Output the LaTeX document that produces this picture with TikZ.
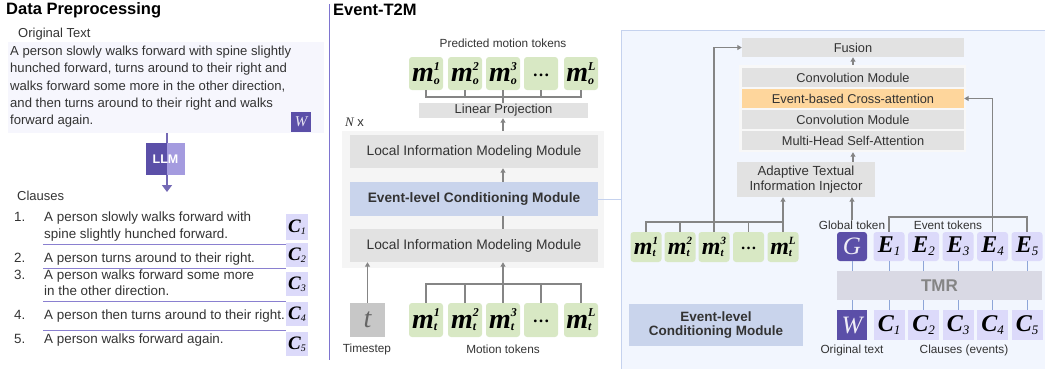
\documentclass[tikz,border=0pt]{standalone}
\usepackage{fontspec}
\setmainfont{Liberation Sans}
\newfontfamily\tokfont{Liberation Serif}
\usetikzlibrary{arrows.meta,calc}
\definecolor{purp}{HTML}{5B4FA8}
\definecolor{llml}{HTML}{A49BDF}
\definecolor{lav}{HTML}{DCDAFA}
\definecolor{grn}{HTML}{D8E8C4}
\definecolor{gbx}{HTML}{E2E2E2}
\definecolor{ecmc}{HTML}{C9D4EC}
\definecolor{orn}{HTML}{FED69C}
\definecolor{pnl}{HTML}{F2F6FE}
\definecolor{pnlb}{HTML}{C5D2EE}
\definecolor{lg}{HTML}{858585}
\definecolor{tmrc}{HTML}{D9D9E4}
\definecolor{bll}{HTML}{8EA6D8}
\definecolor{sepc}{HTML}{8A80D0}
\definecolor{otbg}{HTML}{F6F6FD}
\definecolor{txt}{HTML}{333333}
\definecolor{blkc}{HTML}{F5F5F5}
\definecolor{stkc}{HTML}{F8F8F8}
\definecolor{divc}{HTML}{7E74CF}
\newcommand\fsz[1]{\fontsize{#1}{#1}\selectfont}
\newcommand\mtok[3]{{\bfseries\itshape m}\rlap{\raisebox{-0.1em}{\fsz{#3}\bfseries\itshape #1}}\raisebox{0.4em}{\fsz{#3}\bfseries\itshape #2}}
\newcommand\etok[3]{{\bfseries\itshape #1}\raisebox{-0.12em}{\fsz{#3}\itshape #2}}
\tikzset{
  box/.style={inner sep=0pt, text=txt},
  gbox/.style={box, fill=gbx},
  tokg/.style={box, fill=grn, rounded corners=3pt, text=black, font=\tokfont\fsz{28}},
  tokr/.style={box, fill=grn, rounded corners=3pt, text=black, font=\tokfont\fsz{24}},
  lavbox/.style={box, fill=lav, text=black, font=\tokfont\fsz{24}},
  pbox/.style={box, fill=purp, text=white, font=\tokfont\itshape\fsz{25}},
  lbl/.style={inner sep=0pt, text=txt, font=\fsz{11.8}},
  ln/.style={draw=lg, line width=1.1pt},
  arr/.style={draw=lg, line width=1.1pt, -{Triangle[length=4.5pt,width=5pt]}},
  bl/.style={draw=bll, line width=1pt},
}
\begin{document}
\begin{tikzpicture}[x=1pt,y=-1pt]
\useasboundingbox (0,0) rectangle (1045,368);
% ---------------- Left panel ----------------
\node[anchor=west, inner sep=0pt, font=\bfseries\fsz{16.5}] (t1) at (6,10) {Data Preprocessing};
\node[anchor=west, inner sep=0pt, font=\fsz{13}, text=txt] (otl) at (18,34) {Original Text};
\node[box, fill=otbg, minimum width=316pt, minimum height=91pt] (otbox) at (166,87.5) {};
\foreach \l/\y in {A person slowly walks forward with spine slightly/55.5,
                   {hunched forward, turns around to their right and}/72.8,
                   {walks forward some more in the other direction,}/90.1,
                   and then turns around to their right and walks/107.4,
                   forward again./124.7}
  \node[anchor=base west, inner sep=0pt, font=\fsz{13.1}, text=txt] at (10,\y) {\l};
\node[pbox, minimum width=20pt, minimum height=20pt, font=\tokfont\itshape\fsz{15}, text=white!85!purp] (wl) at (301,122) {W};
\coordinate (llmend) at (167,192);
\draw[draw=purp!85!white, line width=1.5pt, -{Triangle[length=7pt,width=10pt]}] (otbox.south -| llmend) -- (llmend);
\node[box, fill=llml, minimum width=39pt, minimum height=32pt, text=white, font=\bfseries\fsz{12.5},
  path picture={\fill[purp] (path picture bounding box.north west) rectangle ([xshift=1.5pt]path picture bounding box.south);}] (llm) at (165.5,159) {LLM};
\node[anchor=west, inner sep=0pt, font=\fsz{13}, text=txt] (cl) at (17,196) {Clauses};
\foreach \n/\y in {1./221, 2./262, 3./279, 4./319, 5./343}
  \node[anchor=base west, inner sep=0pt, font=\fsz{13.4}, text=txt] at (14,\y) {\n};
\foreach \l/\y in {A person slowly walks forward with/221, spine slightly hunched forward./238,
                   A person turns around to their right./262, A person walks forward some more/279,
                   in the other direction./295, A person then turns around to their right./319,
                   A person walks forward again./343}
  \node[anchor=base west, inner sep=0pt, font=\fsz{13.4}, text=txt] at (44,\y) {\l};
\foreach \y in {244,268,301,330}
  \draw[draw=sepc, line width=0.9pt] (43,\y) -- (286,\y);
\node[lavbox, minimum width=22pt, minimum height=26pt, font=\tokfont\fsz{19}] (lc1) at (297,227) {\etok{C}{1}{10}};
\node[lavbox, minimum width=22pt, minimum height=24pt, font=\tokfont\fsz{19}] (lc2) at (297,255) {\etok{C}{2}{10}};
\node[lavbox, minimum width=22pt, minimum height=24pt, font=\tokfont\fsz{19}] (lc3) at (297,284) {\etok{C}{3}{10}};
\node[lavbox, minimum width=22pt, minimum height=24pt, font=\tokfont\fsz{19}] (lc4) at (297,314) {\etok{C}{4}{10}};
\node[lavbox, minimum width=22pt, minimum height=24pt, font=\tokfont\fsz{19}] (lc5) at (297,344) {\etok{C}{5}{10}};
\draw[draw=divc, line width=1pt] (329,4) -- (329,360);
% ---------------- Middle panel ----------------
\node[anchor=west, inner sep=0pt, font=\bfseries\fsz{16.5}] (t2) at (333,10) {Event-T2M};
\node[lbl] (pmt) at (503,43) {Predicted motion tokens};
\foreach \i/\x/\s in {1/426/1, 2/465/2, 3/503/3, 5/581/L}
  \node[tokg, minimum width=34pt, minimum height=33pt] (mo\i) at (\x,73.5) {\mtok{o}{\s}{12}};
\node[tokg, minimum width=34pt, minimum height=33pt, font=\tokfont\bfseries\fsz{17}] (mo4) at (541,73.5) {\raisebox{-0.35em}{\dots}};
\node[gbox, minimum width=169pt, minimum height=15pt, font=\fsz{13}] (lp) at (503.5,110.5) {Linear Projection};
\coordinate (mobr) at (503,97);
\draw[ln] (mo1.south) -- (mo1.south |- mobr) -- (mo5.south |- mobr) -- (mo5.south);
\foreach \i in {2,4} \draw[ln] (mo\i.south) -- (mo\i.south |- mobr);
\draw[ln] (mo3.south) -- (mo3.south |- lp.north);
\node[anchor=west, inner sep=0pt, font=\fsz{13}, text=txt] (nx) at (345,122) {{\tokfont\itshape N} x};
\node[box, fill=blkc, minimum width=262pt, minimum height=137pt] (blk) at (473,199.5) {};
\node[gbox, minimum width=248pt, minimum height=33pt, font=\fsz{13.8}] (limm1) at (474,151.5) {Local Information Modeling Module};
\node[box, fill=ecmc, minimum width=248pt, minimum height=34pt, font=\bfseries\fsz{13.7}] (ecm) at (474,199) {Event-level Conditioning Module};
\node[gbox, minimum width=248pt, minimum height=33pt, font=\fsz{13.8}] (limm2) at (474,245.5) {Local Information Modeling Module};
\draw[arr] (blk.north -| mo3) -- (lp.south -| mo3);
\draw[arr] (ecm.north -| mo3) -- (limm1.south -| mo3);
\draw[ln] (limm2.north -| mo3) -- (ecm.south -| mo3);
\node[box, fill=black!22, minimum width=35pt, minimum height=34pt, text=black!60, font=\tokfont\itshape\fsz{28}] (tt) at (367.5,320) {t};
\node[lbl] (tsl) at (367,349) {Timestep};
\draw[arr] (tt.north) -- (tt.north |- limm2.south);
\foreach \i/\x/\s in {1/426/1, 2/465/2, 3/503/3, 5/581/L}
  \node[tokg, minimum width=34pt, minimum height=34pt] (mt\i) at (\x,320) {\mtok{t}{\s}{12}};
\node[tokg, minimum width=34pt, minimum height=34pt, font=\tokfont\bfseries\fsz{17}] (mt4) at (541,320) {\raisebox{-0.35em}{\dots}};
\coordinate (mtbr) at (503,284);
\draw[ln] (mt1.north) -- (mt1.north |- mtbr) -- (mt5.north |- mtbr) -- (mt5.north);
\foreach \i in {2,4} \draw[ln] (mt\i.north) -- (mt\i.north |- mtbr);
\draw[arr] (mt3.north) -- (mt3.north |- limm2.south);
\node[lbl] (mtl) at (503,349) {Motion tokens};
% ---------------- Right panel ----------------
\node[box, fill=pnl, draw=pnlb, line width=1pt, minimum width=429pt, minimum height=342pt] (panel) at (835.5,201) {};
\draw[draw=pnlb, line width=1pt] (ecm.east) -- (ecm.east -| panel.west);
\node[box, fill=ecmc, minimum width=174pt, minimum height=42pt, align=center, font=\bfseries\fsz{13.5}] (ecml) at (716,325) {Event-level\\[1pt]Conditioning Module};
\node[gbox, minimum width=222pt, minimum height=19pt, font=\fsz{12.8}] (fus) at (853,47.5) {Fusion};
\node[box, fill=stkc, minimum width=227pt, minimum height=87pt] (stk) at (852.5,108.5) {};
\node[gbox, minimum width=222pt, minimum height=19pt, font=\fsz{12.8}] (cv1) at (853,77.5) {Convolution Module};
\node[box, fill=orn, minimum width=222pt, minimum height=19pt, font=\fsz{12.8}] (eca) at (853,98.5) {Event-based Cross-attention};
\node[gbox, minimum width=222pt, minimum height=19pt, font=\fsz{12.8}] (cv2) at (853,119.5) {Convolution Module};
\node[gbox, minimum width=222pt, minimum height=19pt, font=\fsz{12.8}] (mhsa) at (853,140.5) {Multi-Head Self-Attention};
\draw[arr] (stk.north -| fus) -- (fus.south);
\node[gbox, minimum width=138pt, minimum height=35pt, align=center, font=\fsz{13.2}] (atii) at (806,179.5) {Adaptive Textual\\[1pt]Information Injector};
\draw[arr] (atii.north -| fus) -- (stk.south -| fus);
\foreach \i/\x/\s in {1/646/1, 2/680/2, 3/714/3, 5/783/L}
  \node[tokr, minimum width=31pt, minimum height=30pt] (rm\i) at (\x,247) {\mtok{t}{\s}{11}};
\node[tokr, minimum width=31pt, minimum height=30pt, font=\tokfont\bfseries\fsz{16}] (rm4) at (748.5,247) {\raisebox{-0.35em}{\dots}};
\coordinate (rmbr) at (714,222);
\draw[ln] (rm1.north) -- (rm1.north |- rmbr) -- (rm5.north |- rmbr);
\foreach \i in {2,4} \draw[ln] (rm\i.north) -- (rm\i.north |- rmbr);
\draw[arr] (rm3.north) |- (fus.west);
\draw[arr] (rm5.north) -- (rm5.north |- atii.south);
\node[lbl] (glab) at (852,225) {Global token};
\draw[arr] (glab.north) -- (glab.north |- atii.south);
\node[pbox, rounded corners=3pt, minimum width=30pt, minimum height=29pt, text=white!90!purp] (g) at (852,246.5) {G};
\foreach \i/\x in {1/889, 2/923.5, 3/958, 4/992.5, 5/1027}
  \node[lavbox, rounded corners=3pt, minimum width=31pt, minimum height=29pt] (e\i) at (\x,246.5) {\etok{E}{\i}{13}};
\node[lbl] (elab) at (948,225) {Event tokens};
\coordinate (ebr) at (950,217);
\draw[ln] (e1.north) -- (e1.north |- ebr) -- (e5.north |- ebr) -- (e5.north);
\draw[arr] (e4.north) |- (eca.east);
\node[box, fill=tmrc, minimum width=205pt, minimum height=29pt, text=black!48, font=\bfseries\fsz{17}] (tmr) at (939.5,285.5) {TMR};
\node[pbox, minimum width=30pt, minimum height=30pt, text=white!90!purp] (w) at (852,325) {W};
\foreach \i/\x in {1/889, 2/923.5, 3/958, 4/992.5, 5/1027}
  \node[lavbox, minimum width=31pt, minimum height=30pt] (c\i) at (\x,325) {\etok{C}{\i}{13}};
\foreach \a/\b in {g/w, e1/c1, e2/c2, e3/c3, e4/c4, e5/c5} {
  \draw[bl] (\a.south) -- (\a.south |- tmr.north);
  \draw[bl] (\b.north |- tmr.south) -- (\b.north);
}
\node[lbl] (orl) at (852,350) {Original text};
\node[lbl] (cll) at (964,350) {Clauses (events)};
\end{tikzpicture}
\end{document}
